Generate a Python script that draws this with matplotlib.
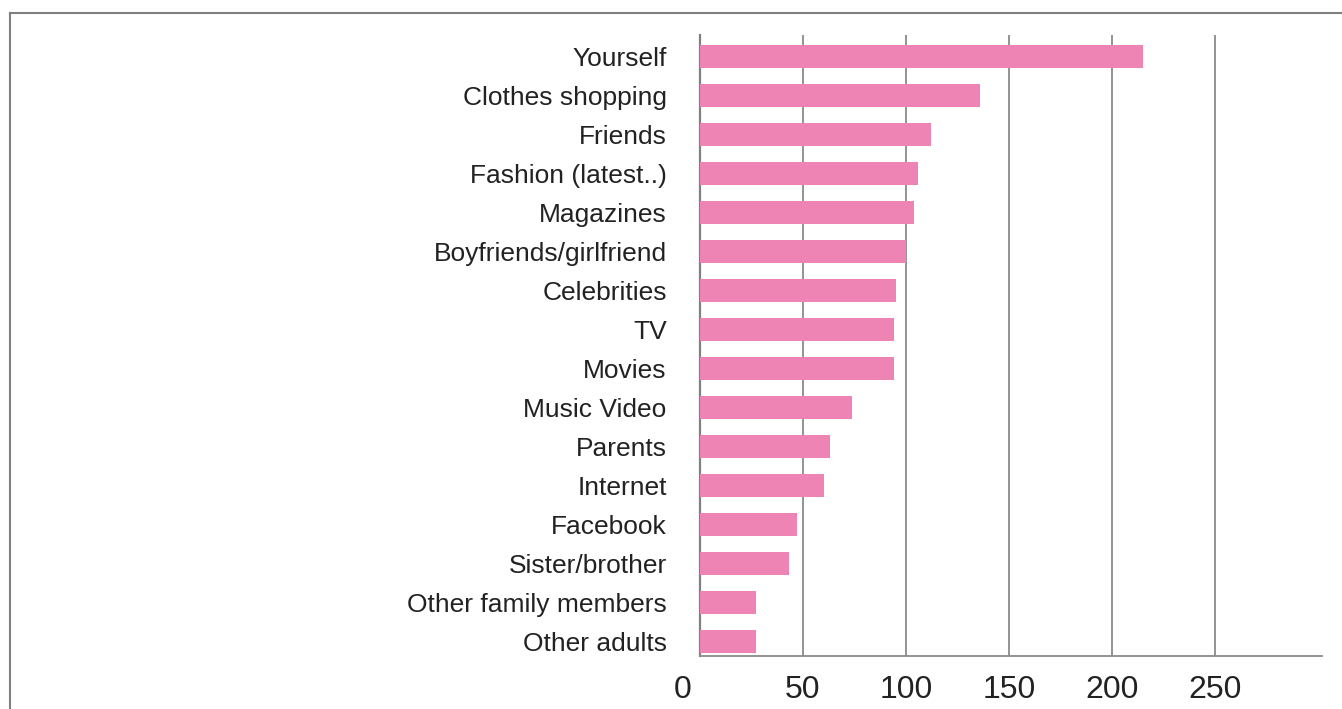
import matplotlib
matplotlib.use("Agg")
import matplotlib.pyplot as plt
from matplotlib.lines import Line2D
import matplotlib.transforms as mtransforms

categorias = ["Yourself", "Clothes shopping", "Friends", "Fashion (latest..)", "Magazines",
              "Boyfriends/girlfriend", "Celebrities", "TV", "Movies", "Music Video",
              "Parents", "Internet", "Facebook", "Sister/brother", "Other family members",
              "Other adults"]
valores = [215, 136, 112, 106, 104, 100, 95, 94, 94, 74, 63, 60, 47, 43, 27, 27]
ticks_x = [0, 50, 100, 150, 200, 250]

plt.rcParams["font.family"] = ["Liberation Sans", "DejaVu Sans"]

fig = plt.figure(figsize=(13.42, 7.09), dpi=100)
W, H = 1342, 709
ax = fig.add_axes([700 / W, 1 - 656 / H, (1322 - 700) / W, (656 - 35) / H])

pos = list(range(len(categorias)))
ax.barh(pos, valores, height=0.59, color="#ee84b4", zorder=3)

ax.set_xlim(0, 302)
ax.set_ylim(len(categorias) - 1 + 0.38, -0.54)
ax.set_yticks(pos)
ax.set_yticklabels(categorias, fontsize=19, color="#222222")
ax.set_xticks(ticks_x)
ax.set_xticklabels([str(t) for t in ticks_x], fontsize=23, color="#222222")
ax.tick_params(axis="y", length=0, pad=24)
ax.tick_params(axis="x", length=0, pad=14)

# el "0" aparece corrido a la izquierda
lbl0 = ax.get_xticklabels()[0]
lbl0.set_transform(lbl0.get_transform() + mtransforms.ScaledTranslation(-17 / 100, 0, fig.dpi_scale_trans))

ax.grid(axis="x", color="#8a8a8a", linewidth=1.3, zorder=0)
ax.grid(axis="y", visible=False)
for lado in ["top", "right"]:
    ax.spines[lado].set_visible(False)
ax.spines["left"].set_color("#808080")
ax.spines["left"].set_linewidth(1.6)
ax.spines["bottom"].set_color("#8a8a8a")
ax.spines["bottom"].set_linewidth(1.3)

# marco exterior (solo arriba e izquierda visibles)
fig.add_artist(Line2D([10 / W, 1], [1 - 13 / H, 1 - 13 / H], color="#808080", linewidth=1.5))
fig.add_artist(Line2D([10 / W, 10 / W], [1 - 13 / H, 0], color="#808080", linewidth=1.5))

plt.savefig("out.png", dpi=100)
